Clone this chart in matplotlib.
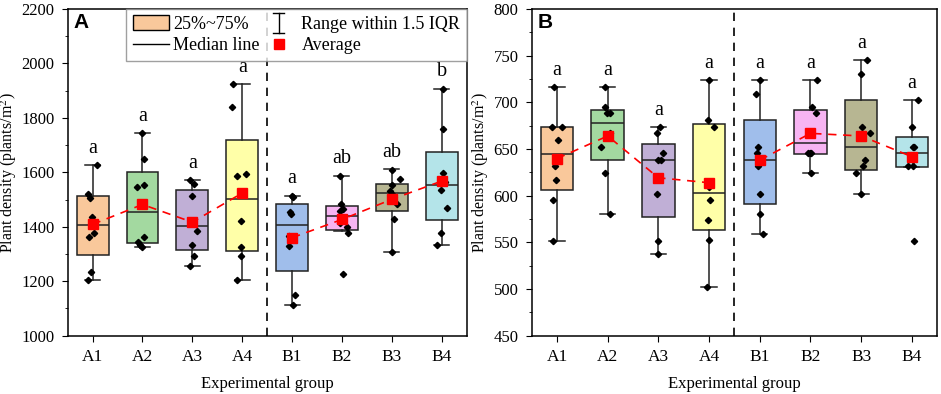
import matplotlib.pyplot as plt
from matplotlib.lines import Line2D
from matplotlib.patches import Patch
from matplotlib.legend_handler import HandlerBase

plt.rcParams['font.family'] = ['Liberation Serif', 'DejaVu Serif']
plt.rcParams['mathtext.fontset'] = 'stix'

groups = ['A1', 'A2', 'A3', 'A4', 'B1', 'B2', 'B3', 'B4']
colors = ['#F9C89B', '#A3D9A0', '#C0AFD6', '#FFFFA8', '#A0BEEB', '#F7B4F2', '#B7B692', '#B4E4E9']

# panel A: box stats
a_q1 = [1298, 1339, 1315, 1310, 1238, 1387, 1457, 1424]
a_med = [1407, 1454, 1402, 1504, 1407, 1439, 1524, 1552]
a_q3 = [1513, 1600, 1534, 1719, 1482, 1476, 1559, 1676]
a_lo = [1206, 1327, 1256, 1206, 1112, 1385, 1306, 1334]
a_hi = [1628, 1745, 1573, 1924, 1515, 1588, 1612, 1908]
a_mean = [1409, 1482, 1417, 1524, 1360, 1427, 1501, 1568]
a_pts = [
    [1628, 1519, 1506, 1435, 1378, 1363, 1235, 1206],
    [1745, 1650, 1547, 1552, 1363, 1344, 1334, 1327],
    [1573, 1558, 1515, 1420, 1384, 1335, 1293, 1256],
    [1924, 1842, 1588, 1594, 1421, 1327, 1293, 1206],
    [1515, 1509, 1455, 1448, 1366, 1328, 1149, 1112],
    [1588, 1482, 1466, 1457, 1415, 1399, 1378, 1228],
    [1608, 1576, 1552, 1533, 1516, 1484, 1429, 1306],
    [1908, 1760, 1596, 1563, 1537, 1470, 1378, 1334],
]
a_jit = [
    [0.09, -0.10, -0.06, -0.01, 0.02, -0.08, -0.03, -0.09],
    [0.0, 0.04, -0.11, 0.04, 0.03, -0.09, -0.05, 0.0],
    [-0.05, 0.04, 0.0, 0.0, 0.09, 0.0, 0.04, -0.05],
    [-0.18, -0.21, -0.11, 0.07, -0.03, -0.03, -0.03, -0.10],
    [-0.01, 0.02, -0.05, -0.02, -0.06, -0.06, 0.05, 0.01],
    [-0.03, -0.02, 0.03, -0.03, -0.03, 0.10, 0.12, 0.03],
    [0.0, 0.17, 0.0, -0.03, 0.03, 0.10, 0.05, 0.0],
    [0.03, 0.03, 0.02, 0.07, -0.01, 0.11, -0.02, -0.09],
]
a_letters = ['a', 'a', 'a', 'a', 'a', 'ab', 'ab', 'b']

# panel B
b_q1 = [605.7, 638.0, 576.8, 562.9, 591.4, 645.1, 627.4, 630.9]
b_med = [645.1, 677.5, 638.0, 602.5, 638.0, 656.1, 652.6, 645.5]
b_q3 = [673.5, 691.7, 655.8, 677.1, 681.0, 691.7, 702.3, 663.2]
b_lo = [551.8, 580.7, 537.9, 501.8, 559.3, 623.8, 602.1, 630.9]
b_hi = [716.5, 716.5, 673.9, 723.6, 723.6, 723.6, 745.0, 702.3]
b_mean = [639.8, 664.0, 619.2, 613.9, 638.1, 666.8, 664.0, 641.8]
b_pts = [
    [716.5, 673.5, 673.5, 659.7, 631.3, 616.7, 595.4, 551.8],
    [716.5, 695.2, 688.1, 688.1, 666.8, 652.6, 624.2, 580.7],
    [673.9, 666.8, 645.5, 638.0, 638.0, 602.0, 551.8, 537.9],
    [723.6, 681.0, 673.9, 609.6, 595.4, 573.6, 552.2, 501.8],
    [723.6, 709.4, 652.6, 645.5, 631.3, 602.1, 580.7, 559.3],
    [723.6, 695.2, 688.1, 666.8, 645.5, 645.5, 646.0, 623.8],
    [745.0, 730.7, 673.9, 666.8, 638.4, 631.3, 624.2, 602.1],
    [702.3, 673.9, 652.6, 652.6, 638.4, 631.3, 631.3, 551.8],
]
b_jit = [
    [-0.05, -0.10, 0.10, 0.01, -0.03, -0.02, -0.07, -0.07],
    [-0.05, -0.06, -0.01, 0.05, 0.05, -0.13, -0.05, 0.05],
    [0.03, -0.02, 0.10, 0.0, 0.05, -0.02, 0.0, 0.0],
    [-0.01, -0.02, 0.09, -0.01, 0.01, -0.03, -0.01, -0.05],
    [0.0, -0.07, -0.04, -0.05, -0.03, 0.0, 0.01, 0.07],
    [0.13, 0.03, 0.10, 0.01, -0.05, 0.01, -0.01, 0.01],
    [0.12, 0.0, 0.01, 0.18, 0.07, 0.03, -0.10, 0.0],
    [0.12, 0.0, 0.02, 0.05, 0.02, -0.07, 0.02, 0.05],
]
b_letters = ['a'] * 8


class WhiskerHandler(HandlerBase):
    def create_artists(self, legend, orig_handle, xd, yd, w, h, fs, trans):
        cx = w / 2 - xd
        y0, y1 = -yd - 2, h - yd + 2
        cw = 4
        arts = [Line2D([cx, cx], [y0, y1], color='k', lw=1),
                Line2D([cx - cw, cx + cw], [y0, y0], color='k', lw=1),
                Line2D([cx - cw, cx + cw], [y1, y1], color='k', lw=1)]
        for a in arts:
            a.set_transform(trans)
        return arts


def draw(ax, q1, med, q3, lo, hi, mean, pts, jit, letters, ylim, major, minor, label, lblx):
    stats = []
    for i in range(8):
        stats.append(dict(q1=q1[i], med=med[i], q3=q3[i], whislo=lo[i], whishi=hi[i],
                          mean=mean[i], fliers=[]))
    pos = list(range(1, 9))
    bp = ax.bxp(stats, positions=pos, widths=0.64, patch_artist=True, showmeans=False,
                showfliers=False, capwidths=0.3,
                boxprops=dict(edgecolor='#222222', linewidth=1.1),
                medianprops=dict(color='#222222', linewidth=1.1),
                whiskerprops=dict(color='#222222', linewidth=1.1),
                capprops=dict(color='#222222', linewidth=1.1))
    for patch, c in zip(bp['boxes'], colors):
        patch.set_facecolor(c)
    for i in range(8):
        xs = [pos[i] + j for j in jit[i]]
        ax.plot(xs, pts[i], 'D', color='k', markersize=3.2, zorder=4)
    for s in (slice(0, 4), slice(4, 8)):
        ax.plot(pos[s], mean[s], '--', color='red', lw=1.2, dashes=(5, 4), zorder=3)
        ax.plot(pos[s], mean[s], 's', color='red', markersize=7, zorder=5)
    off = (ylim[1] - ylim[0]) * 0.022
    for i in range(8):
        ax.text(pos[i], hi[i] + off, letters[i], ha='center', va='bottom', fontsize=14.5)
    ax.axvline(4.5, color='k', ls='--', lw=1.2, dashes=(5, 4))
    ax.set_xlim(0.5, 8.5)
    ax.set_ylim(*ylim)
    ax.set_yticks(range(ylim[0], ylim[1] + 1, major))
    ax.set_yticks(range(ylim[0], ylim[1] + 1, minor), minor=True)
    ax.set_xticks(pos)
    ax.set_xticklabels(groups)
    ax.tick_params(labelsize=12, direction='out', length=4.5, pad=5)
    ax.tick_params(axis='x', labelsize=12.5)
    ax.tick_params(which='minor', length=2.5)
    ax.set_xlabel('Experimental group', fontsize=12, labelpad=8)
    ax.set_ylabel('Plant density (plants/m$^2$)', fontsize=11.5)
    ax.yaxis.set_label_coords(lblx, 0.5)
    ax.text(0.015, 0.988, label, transform=ax.transAxes, fontsize=15, fontweight='bold',
            family='Liberation Sans', va='top', ha='left')
    for sp in ax.spines.values():
        sp.set_linewidth(1.1)


fig = plt.figure(figsize=(9.41, 3.94), dpi=100)
ax1 = fig.add_axes([0.0719, 0.148, 0.424, 0.829])
ax2 = fig.add_axes([0.565, 0.148, 0.431, 0.829])

draw(ax1, a_q1, a_med, a_q3, a_lo, a_hi, a_mean, a_pts, a_jit, a_letters,
     (1000, 2200), 200, 100, 'A', -0.121)
draw(ax2, b_q1, b_med, b_q3, b_lo, b_hi, b_mean, b_pts, b_jit, b_letters,
     (450, 800), 50, 25, 'B', -0.1)

handles = [Patch(facecolor=colors[0], edgecolor='k'),
           Line2D([], [], color='k', lw=1),
           Line2D([], [], color='k'),
           Line2D([], [], marker='s', color='red', ls='none', markersize=7)]
labels = ['25%~75%', 'Median line', 'Range within 1.5 IQR', 'Average']
leg = ax1.legend(handles, labels, ncol=2, loc='upper right', fontsize=13,
                 handler_map={handles[2]: WhiskerHandler()},
                 borderaxespad=0, frameon=True, fancybox=False, edgecolor='#888888',
                 handlelength=2.0, handleheight=0.9, handletextpad=0.25, columnspacing=0.05,
                 labelspacing=0.2, borderpad=0.35)
leg.get_frame().set_linewidth(1)

fig.savefig('out.png', dpi=100)
